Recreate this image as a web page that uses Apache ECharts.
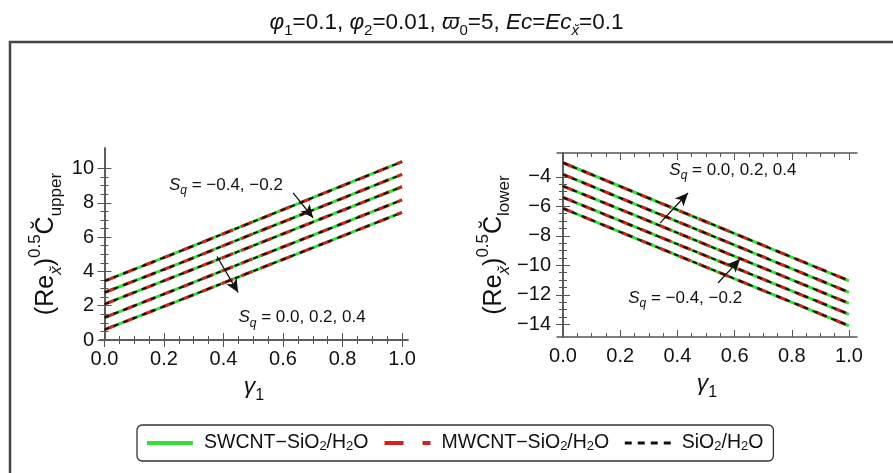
<!DOCTYPE html>
<html>
<head>
<meta charset="utf-8">
<script src="https://cdn.jsdelivr.net/npm/echarts@6/dist/echarts.min.js"></script>
<style>
  html, body { margin: 0; padding: 0; background: #fff; }
  #chart { width: 893px; height: 473px; }
</style>
</head>
<body>
<div id="chart"></div>
<script>
// gamma_1 sample points shared by both panels
const gamma1 = [0, 0.25, 0.5, 0.75, 1.0];

// skin friction at the upper plate, one row per S_q curve
const upperCurves = [
  [3.44, 5.15, 6.90, 8.65, 10.40],
  [2.77, 4.45, 6.20, 7.92, 9.66],
  [2.09, 3.80, 5.50, 7.22, 8.94],
  [1.31, 3.02, 4.75, 6.45, 8.17],
  [0.60, 2.30, 4.02, 5.72, 7.44]
];

// skin friction at the lower plate, one row per S_q curve
const lowerCurves = [
  [-3.05, -5.05, -7.05, -9.05, -11.05],
  [-3.84, -5.84, -7.83, -9.83, -11.83],
  [-4.63, -6.60, -8.60, -10.58, -12.58],
  [-5.40, -7.38, -9.36, -11.34, -13.32],
  [-6.14, -8.14, -10.12, -12.10, -14.10]
];

// tick labels
const xTicks = [0, 0.2, 0.4, 0.6, 0.8, 1.0];
const upperYTicks = [0, 2, 4, 6, 8, 10];
const lowerYTicks = [-14, -12, -10, -8, -6, -4];

const fluids = ['SWCNT\u2212SiO2/H2O', 'MWCNT\u2212SiO2/H2O', 'SiO2/H2O'];
const fluidLabels = {
  'SWCNT\u2212SiO2/H2O': 'SWCNT\u2212SiO{s|2}/H{s|2}O',
  'MWCNT\u2212SiO2/H2O': 'MWCNT\u2212SiO{s|2}/H{s|2}O',
  'SiO2/H2O': 'SiO{s|2}/H{s|2}O'
};

const FONT = 'Liberation Sans, Arial, sans-serif';
const FRAME = '#555';
const INK = '#111';
const lineStyles = [
  { color: '#33e033', width: 3, type: 'solid' },
  { color: '#d42020', width: 3, type: [12, 9] },
  { color: '#111111', width: 2, type: [5, 5] }
];
const legendLines = [
  { type: 'solid', width: 4 },
  { type: [19, 19], width: 4 },
  { type: [7, 6], width: 3 }
];

function minorsOf(majors, step) {
  const out = [];
  for (let i = 0; i < majors.length - 1; i++) {
    for (let v = majors[i] + step; v < majors[i + 1] - 1e-9; v += step) out.push(+v.toFixed(4));
  }
  return out;
}

function txt(size, extra) {
  return Object.assign({ fontSize: size, fontFamily: FONT, fontWeight: 'normal', color: INK }, extra || {});
}

// rich styles for axis names: n normal, i italic, s subscript, si italic subscript, p superscript
const nameRich = {
  n: txt(25, { lineHeight: 38, verticalAlign: 'middle' }),
  i: txt(23, { fontStyle: 'italic', lineHeight: 36, verticalAlign: 'middle' }),
  s: txt(17, { lineHeight: 17, verticalAlign: 'bottom' }),
  si: txt(17, { fontStyle: 'italic', lineHeight: 17, verticalAlign: 'bottom' }),
  p: txt(17, { lineHeight: 17, verticalAlign: 'top' })
};
const xNameRich = {
  i: txt(23, { fontStyle: 'italic', lineHeight: 34, verticalAlign: 'middle' }),
  s: txt(16, { lineHeight: 16, verticalAlign: 'bottom' })
};

function xAxesFor(grid, min, max, name) {
  const minors = minorsOf(xTicks, 0.05);
  const base = { type: 'value', gridIndex: grid, min: min, max: max, splitLine: { show: false } };
  const line = { show: true, lineStyle: { color: FRAME, width: 1.5 } };
  return [
    Object.assign({}, base, {
      position: 'bottom', axisLine: line,
      axisTick: { show: true, inside: true, length: 7, customValues: xTicks, lineStyle: { color: FRAME, width: 1 } },
      axisLabel: { show: true, customValues: xTicks, formatter: v => v.toFixed(1), fontSize: 20, fontFamily: FONT, color: INK, margin: 9 },
      name: name, nameLocation: 'middle', nameGap: 30,
      nameTextStyle: { rich: xNameRich }
    }),
    Object.assign({}, base, {
      position: 'bottom', axisLine: { show: false },
      axisTick: { show: true, inside: true, length: 4, customValues: minors, lineStyle: { color: FRAME, width: 1 } },
      axisLabel: { show: false }
    }),
    Object.assign({}, base, {
      position: 'top', axisLine: line,
      axisTick: { show: true, inside: true, length: 7, customValues: xTicks, lineStyle: { color: FRAME, width: 1 } },
      axisLabel: { show: false }
    }),
    Object.assign({}, base, {
      position: 'top', axisLine: { show: false },
      axisTick: { show: true, inside: true, length: 4, customValues: minors, lineStyle: { color: FRAME, width: 1 } },
      axisLabel: { show: false }
    })
  ];
}

function yAxesFor(grid, min, max, ticks, name, gap) {
  const minors = minorsOf(ticks, 0.5);
  const base = { type: 'value', gridIndex: grid, min: min, max: max, splitLine: { show: false } };
  const line = { show: true, lineStyle: { color: FRAME, width: 1.5 } };
  const fmt = v => (v < 0 ? '\u2212' + Math.abs(v) : String(v));
  return [
    Object.assign({}, base, {
      position: 'left', axisLine: line,
      axisTick: { show: true, inside: true, length: 7, customValues: ticks, lineStyle: { color: FRAME, width: 1 } },
      axisLabel: { show: true, customValues: ticks, formatter: fmt, fontSize: 20, fontFamily: FONT, color: INK, margin: 6 },
      name: name, nameLocation: 'middle', nameGap: gap, nameRotate: 90,
      nameTextStyle: { rich: nameRich }
    }),
    Object.assign({}, base, {
      position: 'left', axisLine: { show: false },
      axisTick: { show: true, inside: true, length: 4, customValues: minors, lineStyle: { color: FRAME, width: 1 } },
      axisLabel: { show: false }
    }),
    Object.assign({}, base, {
      position: 'right', axisLine: line,
      axisTick: { show: true, inside: true, length: 7, customValues: ticks, lineStyle: { color: FRAME, width: 1 } },
      axisLabel: { show: false }
    }),
    Object.assign({}, base, {
      position: 'right', axisLine: { show: false },
      axisTick: { show: true, inside: true, length: 4, customValues: minors, lineStyle: { color: FRAME, width: 1 } },
      axisLabel: { show: false }
    })
  ];
}

const noteRich = {
  i: txt(17, { fontStyle: 'italic', lineHeight: 24, verticalAlign: 'middle' }),
  n: txt(17, { lineHeight: 24, verticalAlign: 'middle' }),
  s: txt(12, { fontStyle: 'italic', lineHeight: 12, verticalAlign: 'bottom' })
};

function note(coord, text) {
  return {
    coord: coord, symbol: 'circle', symbolSize: 1,
    itemStyle: { color: 'rgba(0,0,0,0)' },
    label: { show: true, position: 'inside', formatter: text, rich: noteRich }
  };
}

function arrow(from, to) {
  return [{ coord: from }, { coord: to }];
}

// annotations per panel: S_q labels and direction arrows (data coordinates)
const panelNotes = [
  {
    labels: [
      note([0.408, 9.04], '{i|S}{s|q}{n| = \u22120.4, \u22120.2}'),
      note([0.664, 1.33], '{i|S}{s|q}{n| = 0.0, 0.2, 0.4}')
    ],
    arrows: [arrow([0.634, 8.58], [0.701, 7.13]), arrow([0.378, 4.87], [0.449, 2.78])]
  },
  {
    labels: [
      note([0.594, -3.55], '{i|S}{s|q}{n| = 0.0, 0.2, 0.4}'),
      note([0.427, -12.22], '{i|S}{s|q}{n| = \u22120.4, \u22120.2}')
    ],
    arrows: [arrow([0.339, -7.14], [0.437, -5.10]), arrow([0.542, -11.2], [0.619, -9.58])]
  }
];

function panelSeries(panel, curves) {
  const out = [];
  fluids.forEach((fluid, f) => {
    curves.forEach((row, k) => {
      const s = {
        name: fluid, type: 'line',
        xAxisIndex: panel * 4, yAxisIndex: panel * 4,
        data: row.map((v, j) => [gamma1[j], v]),
        showSymbol: false, symbol: 'none', silent: true, animation: false,
        lineStyle: Object.assign({}, lineStyles[f]),
        itemStyle: { color: lineStyles[f].color },
        z: 2 + f
      };
      if (f === 2 && k === 0) {
        const pn = panelNotes[panel];
        s.markPoint = { silent: true, animation: false, data: pn.labels };
        s.markLine = {
          silent: true, animation: false, symbol: ['none', 'arrow'], symbolSize: [9, 13],
          lineStyle: { color: INK, width: 1.3, type: 'solid' },
          label: { show: false },
          data: pn.arrows
        };
      }
      out.push(s);
    });
  });
  return out;
}

const chart = echarts.init(document.getElementById('chart'), null, { renderer: 'canvas' });

const titleRich = {
  i: txt(22.5, { fontStyle: 'italic', lineHeight: 30, verticalAlign: 'middle' }),
  n: txt(22.5, { lineHeight: 30, verticalAlign: 'middle' }),
  s: txt(15, { lineHeight: 15, verticalAlign: 'bottom' }),
  si: txt(15, { fontStyle: 'italic', lineHeight: 15, verticalAlign: 'bottom' })
};

chart.setOption({
  animation: false,
  backgroundColor: '#fff',
  title: {
    text: '{i|\u03c6}{s|1}{n|=0.1, }{i|\u03c6}{s|2}{n|=0.01, }{i|\u03d6}{s|0}{n|=5, }{i|Ec}{n|=}{i|Ec}{si|x\u0306}{n|=0.1}',
    left: 'center', top: 3,
    textStyle: { fontWeight: 'normal', rich: titleRich }
  },
  graphic: [{
    type: 'rect', silent: true,
    shape: { x: 10, y: 42, width: 900, height: 460 },
    style: { fill: 'none', stroke: '#444', lineWidth: 2.5 }
  }],
  legend: {
    data: fluids.map((n, f) => ({ name: n, lineStyle: legendLines[f] })),
    left: 137, top: 425,
    orient: 'horizontal',
    padding: [8, 10, 8, 8],
    itemGap: 14,
    itemWidth: 46, itemHeight: 14,
    itemStyle: { opacity: 0 },
    borderColor: '#333', borderWidth: 1.3, borderRadius: 5,
    backgroundColor: '#fff',
    selectedMode: false,
    formatter: n => fluidLabels[n],
    textStyle: {
      fontSize: 19.5, fontFamily: FONT, color: INK, padding: [0, 0, 0, 6],
      rich: {
        s: txt(13, { lineHeight: 13, verticalAlign: 'bottom' })
      }
    }
  },
  grid: [
    { left: 100, right: 485, top: 148, bottom: 133 },
    { left: 557, right: 36, top: 153, bottom: 136 }
  ],
  xAxis: [].concat(
    xAxesFor(0, -0.015, 1.02, '{i|\u03b3}{s|1}'),
    xAxesFor(1, -0.021, 1.028, '{i|\u03b3}{s|1}')
  ),
  yAxis: [].concat(
    yAxesFor(0, 0, 11.2, upperYTicks, '{n|(Re}{si|x\u0306}{n|)}{p|0.5}{n|C\u0306}{s|upper}', 35),
    yAxesFor(1, -14.86, -2.39, lowerYTicks, '{n|(Re}{si|x\u0306}{n|)}{p|0.5}{n|C\u0306}{s|lower}', 43)
  ),
  series: [].concat(panelSeries(0, upperCurves), panelSeries(1, lowerCurves))
});
</script>
</body>
</html>
